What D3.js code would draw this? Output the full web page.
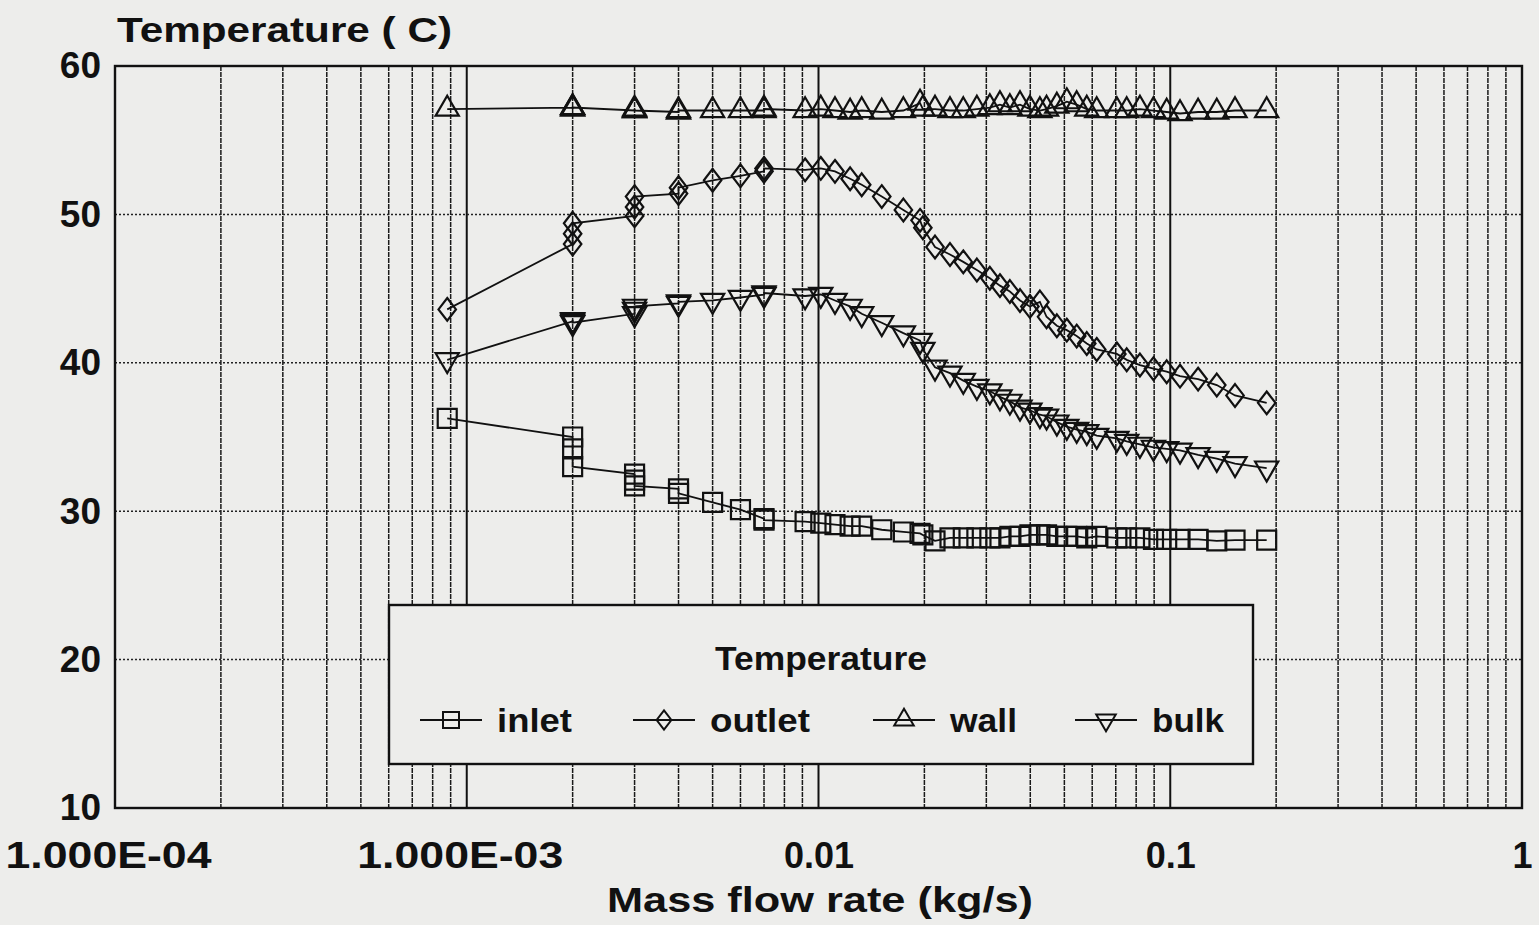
<!DOCTYPE html>
<html>
<head>
<meta charset="utf-8">
<script src="https://cdn.jsdelivr.net/npm/d3@7"></script>
<style>
  body { margin: 0; background: #ededeb; }
  text { font-family: "Liberation Sans", Arial, sans-serif; font-weight: bold; fill: #111; }
</style>
</head>
<body>
<svg id="chart" width="1539" height="925"></svg>
<script>
// mass flow rate (kg/s), shared by all four series
var flow = [0.00088, 0.002, 0.002, 0.002, 0.003, 0.003, 0.003, 0.004, 0.004, 0.005,
  0.006, 0.007, 0.007, 0.00916, 0.01015, 0.01114, 0.0123, 0.01327, 0.01513, 0.01743,
  0.01944, 0.0198, 0.02144, 0.02365, 0.0258, 0.0282, 0.0307, 0.0328, 0.035, 0.0374,
  0.0399, 0.0426, 0.0445, 0.0476, 0.0508, 0.0542, 0.0579, 0.0618, 0.0705, 0.0752,
  0.082, 0.0896, 0.0977, 0.1066, 0.120, 0.1356, 0.1528, 0.188];

// temperatures (C)
var inlet = [36.25, 35.0, 34.2, 33.0, 32.5, 32.1, 31.7, 31.5, 31.2, 30.6,
  30.1, 29.5, 29.4, 29.3, 29.2, 29.1, 29.0, 29.0, 28.75, 28.6,
  28.5, 28.4, 28.0, 28.2, 28.2, 28.2, 28.2, 28.2, 28.3, 28.3,
  28.4, 28.4, 28.4, 28.3, 28.3, 28.3, 28.2, 28.3, 28.2, 28.2,
  28.2, 28.1, 28.1, 28.1, 28.1, 28.0, 28.05, 28.05];
var outlet = [43.6, 48.0, 48.7, 49.4, 49.9, 50.5, 51.2, 51.4, 51.8, 52.3,
  52.6, 52.9, 53.1, 53.0, 53.1, 52.9, 52.4, 52.0, 51.2, 50.3,
  49.6, 49.1, 47.8, 47.3, 46.8, 46.25, 45.7, 45.2, 44.8, 44.2,
  43.8, 44.1, 43.1, 42.5, 42.2, 41.8, 41.3, 40.9, 40.6, 40.2,
  39.85, 39.6, 39.4, 39.1, 38.9, 38.5, 37.8, 37.3];
var wall = [57.1, 57.2, 57.1, 57.2, 57.0, 57.1, 57.0, 56.9, 57.0, 57.0,
  57.0, 57.0, 57.1, 57.0, 57.1, 57.0, 56.9, 57.0, 56.9, 57.0,
  57.5, 57.1, 57.1, 57.0, 57.0, 57.1, 57.2, 57.4, 57.2, 57.4,
  57.1, 57.0, 57.1, 57.3, 57.6, 57.4, 57.1, 57.0, 57.0, 57.0,
  57.1, 57.0, 56.9, 56.8, 56.9, 56.9, 57.0, 57.0];
var bulk = [40.2, 42.8, 42.9, 42.7, 43.3, 43.6, 43.8, 44.0, 44.1, 44.2,
  44.4, 44.6, 44.7, 44.5, 44.6, 44.2, 43.8, 43.3, 42.7, 42.0,
  41.5, 40.9, 39.7, 39.3, 38.8, 38.4, 38.1, 37.7, 37.4, 37.0,
  36.8, 36.5, 36.4, 36.0, 35.7, 35.5, 35.35, 35.1, 34.9, 34.7,
  34.5, 34.3, 34.2, 34.1, 33.8, 33.55, 33.2, 32.9];

var seriesNames = ["inlet", "outlet", "wall", "bulk"];
var xTickValues = [1e-4, 1e-3, 0.01, 0.1, 1];
var xTickLabels = ["1.000E-04", "1.000E-03", "0.01", "0.1", "1"];
var yTickValues = [10, 20, 30, 40, 50, 60];

// plot box (window.top is read-only, so use other names)
var plotL = 115, plotR = 1522, plotT = 66, plotB = 808;

var svg = d3.select("#chart");

var x = d3.scaleLog().domain([1e-4, 1]).range([plotL, plotR]);
var y = d3.scaleLinear().domain([10, 60]).range([plotB, plotT]);

// vertical grid: every minor step of each decade
var minor = [];
[1e-4, 1e-3, 1e-2, 1e-1].forEach(function(d) {
  for (var k = 2; k <= 9; k++) minor.push(k * d);
});
svg.append("g").selectAll("line")
  .data(minor)
  .enter().append("line")
  .attr("x1", function(d) { return x(d); })
  .attr("x2", function(d) { return x(d); })
  .attr("y1", plotT).attr("y2", plotB)
  .attr("stroke", "#1a1a1a").attr("stroke-width", 1.5)
  .attr("stroke-dasharray", "5,1");

// decade lines
svg.append("g").selectAll("line")
  .data([1e-3, 1e-2, 1e-1])
  .enter().append("line")
  .attr("x1", function(d) { return x(d); })
  .attr("x2", function(d) { return x(d); })
  .attr("y1", plotT).attr("y2", plotB)
  .attr("stroke", "#111").attr("stroke-width", 2);

// horizontal dotted grid
svg.append("g").selectAll("line")
  .data([20, 30, 40, 50])
  .enter().append("line")
  .attr("x1", plotL).attr("x2", plotR)
  .attr("y1", function(d) { return y(d); })
  .attr("y2", function(d) { return y(d); })
  .attr("stroke", "#222").attr("stroke-width", 1.5)
  .attr("stroke-dasharray", "2,2");

// frame
svg.append("rect")
  .attr("x", plotL).attr("y", plotT)
  .attr("width", plotR - plotL).attr("height", plotB - plotT)
  .attr("fill", "none").attr("stroke", "#111").attr("stroke-width", 2.4);

// axes (labels only)
var xAxis = svg.append("g")
  .attr("transform", "translate(0," + plotB + ")")
  .call(d3.axisBottom(x).tickValues(xTickValues).tickSize(0).tickPadding(34)
    .tickFormat(function(d, i) { return xTickLabels[i]; }));
xAxis.select(".domain").remove();
xAxis.selectAll("text")
  .style("font-size", "36px").attr("fill", "#111")
  .each(function(d, i) {
    if (xTickLabels[i].length > 5) {
      d3.select(this).attr("textLength", 206).attr("lengthAdjust", "spacingAndGlyphs")
        .attr("dx", -7);
    }
  });

var yAxis = svg.append("g")
  .attr("transform", "translate(" + plotL + ",0)")
  .call(d3.axisLeft(y).tickValues(yTickValues).tickSize(0).tickPadding(14));
yAxis.select(".domain").remove();
yAxis.selectAll("text").style("font-size", "37px").attr("fill", "#111");

svg.append("text")
  .attr("x", 117).attr("y", 42)
  .attr("textLength", 335).attr("lengthAdjust", "spacingAndGlyphs")
  .style("font-size", "35px")
  .text("Temperature ( C)");

svg.append("text")
  .attr("x", 820).attr("y", 912)
  .attr("text-anchor", "middle")
  .attr("textLength", 426).attr("lengthAdjust", "spacingAndGlyphs")
  .style("font-size", "35px")
  .text("Mass flow rate (kg/s)");

// marker shapes, centred on the data point (triangles on their centroid)
function marker(name, s) {
  if (name === "inlet") return "M" + (-s / 2) + "," + (-s / 2) + "h" + s + "v" + s + "h" + (-s) + "Z";
  if (name === "outlet") return "M0," + (-s * 0.6) + "L" + (s * 0.46) + ",0L0," + (s * 0.6) + "L" + (-s * 0.46) + ",0Z";
  var w = s * 1.22, h = s * 1.05;
  if (name === "wall") return "M0," + (-2 * h / 3) + "L" + (w / 2) + "," + (h / 3) + "L" + (-w / 2) + "," + (h / 3) + "Z";
  return "M" + (-w / 2) + "," + (-h / 3) + "L" + (w / 2) + "," + (-h / 3) + "L0," + (2 * h / 3) + "Z";
}

var seriesData = [inlet, outlet, wall, bulk];
var line = d3.line()
  .x(function(d) { return x(d[0]); })
  .y(function(d) { return y(d[1]); });

seriesData.forEach(function(vals, si) {
  var pts = flow.map(function(f, i) { return [f, vals[i]]; });
  var g = svg.append("g");
  g.append("path")
    .attr("d", line(pts))
    .attr("fill", "none").attr("stroke", "#111").attr("stroke-width", 1.8);
  g.selectAll("path.m")
    .data(pts)
    .enter().append("path")
    .attr("class", "m")
    .attr("transform", function(d) { return "translate(" + x(d[0]) + "," + y(d[1]) + ")"; })
    .attr("d", marker(seriesNames[si], 19))
    .attr("fill", "none").attr("stroke", "#111").attr("stroke-width", 2.2);
});

// legend
var lg = svg.append("g");
lg.append("rect")
  .attr("x", 389).attr("y", 605).attr("width", 864).attr("height", 159)
  .attr("fill", "#ededeb").attr("stroke", "#111").attr("stroke-width", 2.4);
lg.append("text")
  .attr("x", 821).attr("y", 670).attr("text-anchor", "middle")
  .attr("textLength", 212).attr("lengthAdjust", "spacingAndGlyphs")
  .style("font-size", "33px")
  .text("Temperature");

var legendX = [420, 633, 873, 1075];
var legendTextLen = [75, 100, 67, 72];
seriesNames.forEach(function(name, i) {
  var item = lg.append("g").attr("transform", "translate(" + legendX[i] + ",720)");
  item.append("line").attr("x1", 0).attr("x2", 62)
    .attr("stroke", "#111").attr("stroke-width", 1.8);
  item.append("path")
    .attr("transform", "translate(31,0)")
    .attr("d", marker(name, 16))
    .attr("fill", "none").attr("stroke", "#111").attr("stroke-width", 2);
  item.append("text")
    .attr("x", 77).attr("y", 12)
    .attr("textLength", legendTextLen[i]).attr("lengthAdjust", "spacingAndGlyphs")
    .style("font-size", "33px")
    .text(name);
});
</script>
</body>
</html>
